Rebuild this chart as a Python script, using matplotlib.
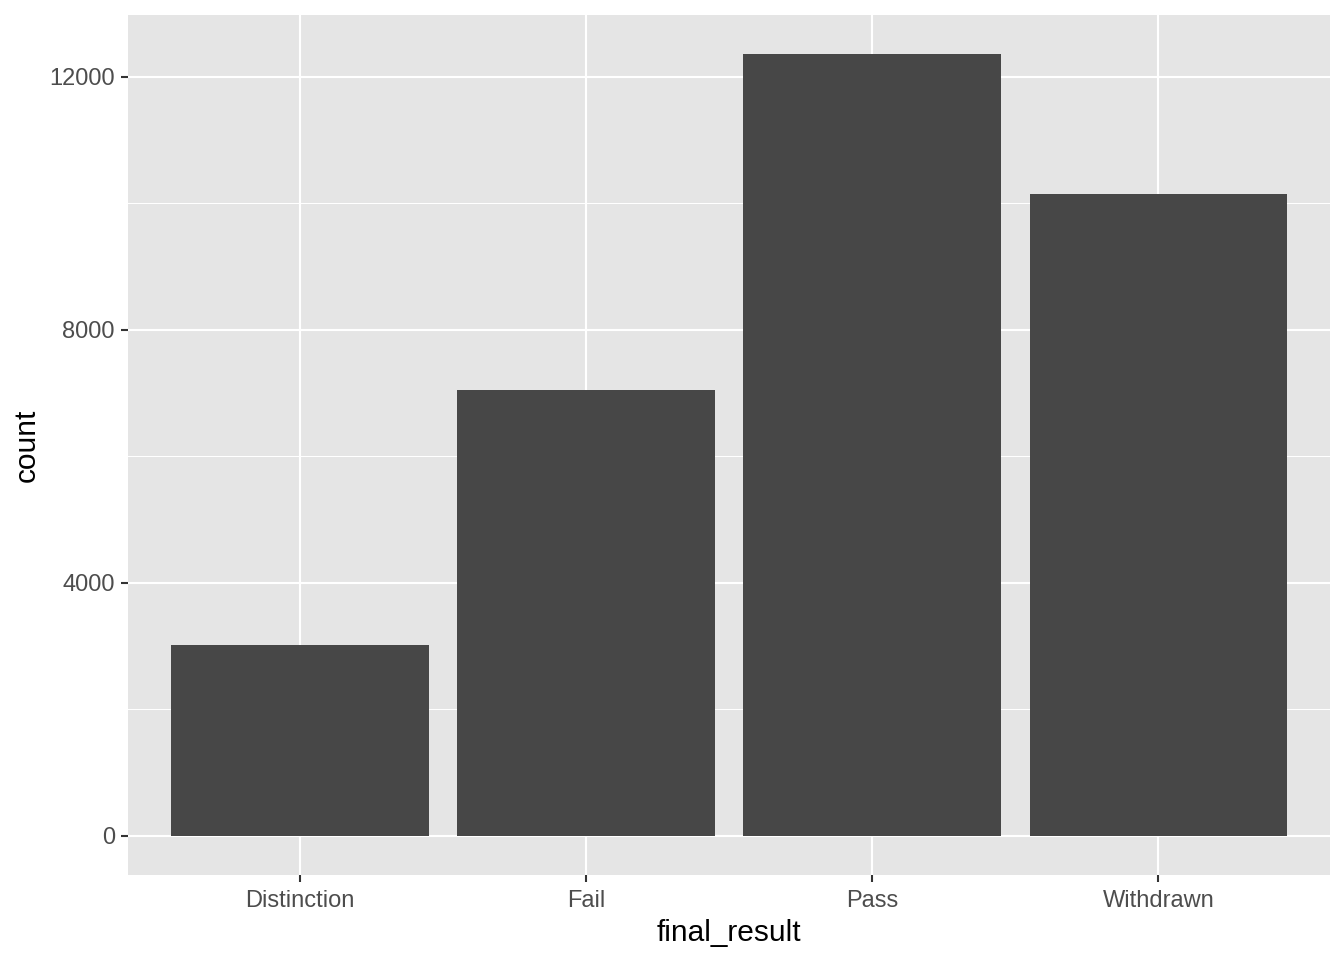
import matplotlib
matplotlib.use("Agg")
import matplotlib.pyplot as plt
import numpy as np

# counts per final_result
categories = ["Distinction", "Fail", "Pass", "Withdrawn"]
counts = [3024, 7052, 12361, 10156]
y_ticks = [0, 4000, 8000, 12000]
y_minor = [2000, 6000, 10000]

plt.rcParams["font.family"] = ["Liberation Sans", "DejaVu Sans"]

fig = plt.figure(figsize=(13.44, 9.6), dpi=100)
ax = fig.add_axes([128 / 1344, 1 - 875 / 960, 1202 / 1344, 860 / 960])
ax.set_facecolor("#E5E5E5")

x = np.arange(1, len(categories) + 1)

# ggplot-ish grid
for v in y_minor:
    ax.axhline(v, color="white", lw=0.75, zorder=0)
for v in y_ticks:
    ax.axhline(v, color="white", lw=1.5, zorder=0)
for v in x:
    ax.axvline(v, color="white", lw=1.5, zorder=0)

ax.bar(x, counts, width=0.9, color="#474747", zorder=2)

ymax = max(counts)
ax.set_xlim(0.4, len(categories) + 0.6)
ax.set_ylim(-0.05 * ymax, ymax * 1.05)

ax.set_xticks(x)
ax.set_xticklabels(categories)
ax.set_yticks(y_ticks)
ax.set_yticklabels([str(v) for v in y_ticks])
ax.tick_params(axis="both", length=5, width=1.5, color="#333333",
               labelcolor="#4D4D4D", labelsize=17)
ax.tick_params(axis="x", pad=5.5)
ax.tick_params(axis="y", pad=4.5)

for s in ax.spines.values():
    s.set_visible(False)

ax.set_xlabel("final_result", fontsize=21.5, color="black", labelpad=5)
ax.set_ylabel("count", fontsize=21.5, color="black", labelpad=6)

fig.savefig("out.png", dpi=100)
